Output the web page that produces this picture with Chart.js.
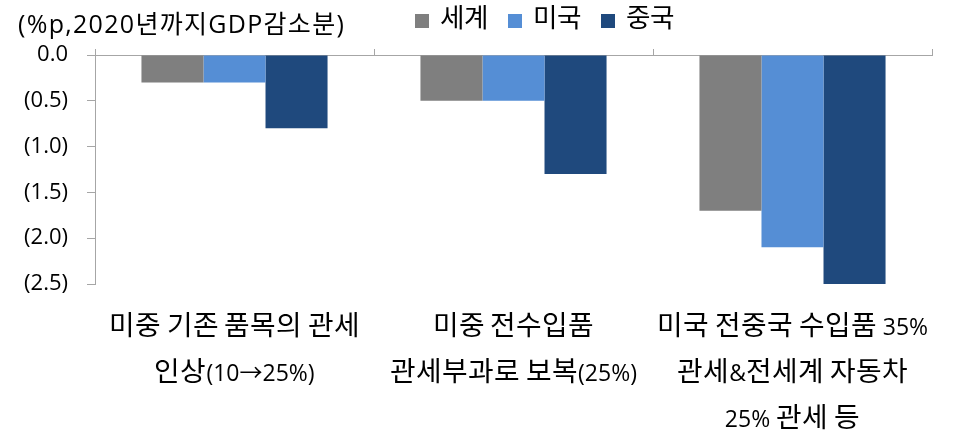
<!DOCTYPE html>
<html>
<head>
<meta charset="utf-8">
<script src="https://cdn.jsdelivr.net/npm/chart.js@4.4.1/dist/chart.umd.min.js"></script>
<style>
    /* hangul um pouco maior que o latim, como na fonte original */
    @font-face {
        font-family: 'HangulGrande';
        src: local('Noto Sans CJK KR'), local('Noto Sans CJK KR Regular'), local('NotoSansCJKkr-Regular');
        size-adjust: 121%;
        unicode-range: U+1100-11FF, U+3130-318F, U+AC00-D7AF;
    }
    html, body { margin: 0; padding: 0; background: #fff; overflow: hidden; }
    #wrap { position: relative; width: 953px; height: 464px; }
    #unidade {
        position: absolute; left: 18px; top: 4px;
        font: 25px 'Open Sans', 'Noto Sans CJK KR', sans-serif;
        letter-spacing: 1.3px;
        color: #000; white-space: nowrap;
    }
</style>
</head>
<body>
<div id="wrap">
    <canvas id="grafico"></canvas>
    <div id="unidade">(%p,2020년까지GDP감소분)</div>
</div>
<script>
// dados do gráfico
const categorias = [
    ['미중 기존 품목의 관세', '인상(10→25%)'],
    ['미중 전수입품', '관세부과로 보복(25%)'],
    ['미국 전중국 수입품 35%', '관세&전세계 자동차', '25% 관세 등']
];
const series = ['세계', '미국', '중국'];
const valoresMundo = [-0.3, -0.5, -1.7];
const valoresEua   = [-0.3, -0.5, -2.1];
const valoresChina = [-0.8, -1.3, -2.5];
const ticksY = [0, -0.5, -1.0, -1.5, -2.0, -2.5];

const CORES = ['#7f7f7f', '#558ed5', '#1f497d'];
const EIXO = '#a6a6a6';
const FONTE = "'Open Sans', 'HangulGrande', 'Noto Sans CJK KR', sans-serif";

Chart.defaults.font.family = FONTE;
Chart.defaults.color = '#000';

// legenda fica na mesma linha do texto da unidade
const moverLegenda = {
    id: 'moverLegenda',
    afterLayout(chart) {
        const lg = chart.legend;
        const dy = -7;
        lg.left = 395;
        lg.top += dy;
        lg.bottom += dy;
    }
};

function desenhar() {
    const valores = [valoresMundo, valoresEua, valoresChina];
    const datasets = [];
    for (let i = 0; i < series.length; i++) {
        datasets.push({
            label: series[i],
            data: valores[i],
            backgroundColor: CORES[i],
            borderWidth: 0,
            categoryPercentage: 0.667,
            barPercentage: 1.0
        });
    }

    new Chart(document.getElementById('grafico'), {
        type: 'bar',
        data: { labels: categorias, datasets: datasets },
        plugins: [moverLegenda],
        options: {
            responsive: true,
            maintainAspectRatio: false,
            animation: false,
            layout: { padding: { left: 0, right: 21, top: -3, bottom: 0 } },
            plugins: {
                legend: {
                    display: true,
                    position: 'top',
                    align: 'start',
                    labels: {
                        boxWidth: 14,
                        boxHeight: 14,
                        padding: 20,
                        font: { size: 22 },
                        color: '#000'
                    }
                },
                tooltip: { enabled: false }
            },
            scales: {
                x: {
                    grid: { display: false, drawTicks: false },
                    border: { display: false },
                    ticks: {
                        color: '#000',
                        padding: 21,
                        maxRotation: 0,
                        autoSkip: false,
                        font: { size: 23, lineHeight: '46px' }
                    }
                },
                x2: {
                    type: 'category',
                    position: 'top',
                    labels: categorias,
                    offset: true,
                    grid: { offset: true, drawOnChartArea: false, drawTicks: true, tickLength: 6, color: EIXO },
                    border: { color: EIXO, width: 1 },
                    ticks: { display: false }
                },
                y: {
                    min: -2.5,
                    max: 0,
                    afterFit: function(scale) { scale.width = 95; },
                    afterBuildTicks: function(scale) {
                        scale.ticks = ticksY.map(v => ({ value: v }));
                    },
                    grid: { drawOnChartArea: false, drawTicks: true, tickLength: 8, color: EIXO },
                    border: { color: EIXO, width: 1 },
                    ticks: {
                        color: '#000',
                        padding: 19,
                        font: { size: 22 },
                        callback: v => v === 0 ? '0.0' : '(' + Math.abs(v).toFixed(1) + ')'
                    }
                }
            }
        }
    });
}

document.fonts.load("22px 'HangulGrande'", '가').then(desenhar, desenhar);
</script>
</body>
</html>
